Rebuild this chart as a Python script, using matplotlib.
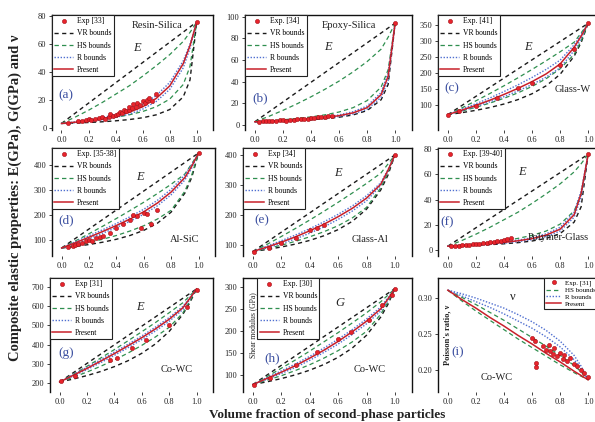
import matplotlib
matplotlib.use("Agg")
import matplotlib.pyplot as plt
from matplotlib.lines import Line2D

plt.rcParams['font.family'] = ['Liberation Serif', 'DejaVu Serif']

# ---------------- data ----------------
X = [0.0, 0.1, 0.2, 0.3, 0.4, 0.5, 0.6, 0.7, 0.8, 0.9, 0.95, 1.0]
XTICKS = [0.0, 0.2, 0.4, 0.6, 0.8, 1.0]
XTICKLABELS = ['0.0', '0.2', '0.4', '0.6', '0.8', '1.0']

# (a) Resin-Silica, E
A_VR_UP = [3, 10.3, 17.6, 24.9, 32.2, 39.5, 46.8, 54.1, 61.4, 68.7, 72.4, 76]
A_VR_LO = [3, 3.3, 3.7, 4.2, 4.9, 5.8, 7.1, 9.2, 13.0, 22.1, 34.3, 76]
A_HS_UP = [3, 7.5, 12.5, 18, 24, 30, 37, 44.5, 52.5, 62, 68.5, 76]
A_HS_LO = [3, 3.8, 4.8, 6.0, 7.4, 9.2, 11.6, 15, 20.5, 31, 44, 76]
A_R_UP = [3, 4.2, 5.6, 7.2, 9.4, 12.4, 16.6, 23, 32.5, 48, 60, 76]
A_R_LO = [3, 3.6, 4.5, 5.7, 7.3, 9.7, 13.3, 18.8, 27.5, 43, 57, 76]
A_PRESENT = [3, 3.9, 5.0, 6.4, 8.3, 11, 15, 21, 30, 46, 59, 76]
A_EXP_X = [0.05, 0.12, 0.15, 0.18, 0.2, 0.22, 0.25, 0.28, 0.3, 0.32, 0.35, 0.36, 0.38, 0.4,
           0.42, 0.43, 0.45, 0.46, 0.48, 0.5, 0.5, 0.52, 0.53, 0.55, 0.56, 0.58, 0.6, 0.62,
           0.63, 0.65, 0.67, 0.7, 1.0]
A_EXP_Y = [3.5, 4.5, 5, 5.5, 6, 5.5, 6.5, 7, 7.5, 6.5, 8, 9.5, 8.5, 9,
           10, 11.5, 10.5, 12.5, 12, 13, 15, 14, 17, 14.5, 18, 16, 19, 17.5,
           20, 21, 19, 24, 76]

# (b) Epoxy-Silica, E
B_VR_UP = [3, 12.1, 21.2, 30.3, 39.4, 48.5, 57.6, 66.7, 75.8, 84.9, 89.5, 94]
B_VR_LO = [3, 3.3, 3.7, 4.2, 4.9, 5.8, 7.2, 9.3, 13.3, 23.3, 37.4, 94]
B_HS_UP = [3, 8, 13.5, 19.5, 26, 33, 40.5, 49, 58.5, 70, 81, 94]
B_HS_LO = [3, 3.8, 4.8, 6.0, 7.5, 9.4, 12, 16, 22.5, 35, 51, 94]
B_R_UP = [3, 3.6, 4.3, 5.1, 6.1, 7.4, 9.3, 12.3, 17.5, 30, 48, 94]
B_R_LO = [3, 3.4, 3.9, 4.5, 5.3, 6.4, 7.9, 10.2, 14.5, 25.5, 41, 94]
B_PRESENT = [3, 3.5, 4.1, 4.8, 5.7, 6.9, 8.6, 11.2, 16, 28, 45, 94]
B_EXP_X = [0.03, 0.06, 0.08, 0.1, 0.12, 0.15, 0.18, 0.2, 0.22, 0.25, 0.28, 0.3, 0.33,
           0.35, 0.38, 0.4, 0.42, 0.45, 0.47, 0.5, 0.52, 0.55, 1.0]
B_EXP_Y = [3.2, 3.5, 3.3, 3.8, 3.6, 4.0, 4.2, 4.4, 4.1, 4.8, 5.0, 5.3, 5.5,
           5.8, 6.0, 6.3, 6.6, 7.0, 7.4, 7.8, 8.2, 8.5, 94]

# (c) Glass-W, E
C_VR_UP = [70, 98.5, 127, 155.5, 184, 212.5, 241, 269.5, 298, 326.5, 340.8, 355]
C_VR_LO = [70, 76.1, 83.4, 92.2, 103.1, 116.9, 135.1, 159.8, 195.7, 252.3, 295, 355]
C_HS_UP = [70, 91, 113, 136, 160, 185, 211, 238, 266, 296, 325, 355]
C_HS_LO = [70, 81, 93, 106, 121, 138, 158, 182, 213, 258, 300, 355]
C_R_UP = [70, 87, 104, 122, 142, 163, 186, 211, 240, 288, 320, 355]
C_R_LO = [70, 82, 95, 110, 126, 144, 164, 187, 216, 270, 308, 355]
C_PRESENT = [70, 84, 99, 115, 133, 152, 173, 197, 228, 280, 315, 355]
C_EXP_X = [0.0, 0.08, 0.2, 0.35, 0.5, 0.6, 0.8, 0.9, 1.0]
C_EXP_Y = [70, 80, 98, 122, 152, 170, 225, 275, 355]

# (d) Al-SiC, E
D_VR_UP = [68, 106, 144, 182, 220, 258, 296, 334, 372, 410, 429, 448]
D_VR_LO = [68, 74.3, 81.9, 91.2, 102.9, 118.1, 138.5, 167.4, 211.6, 287.4, 350, 448]
D_HS_UP = [68, 96, 125, 155, 186, 218, 251, 286, 323, 364, 405, 448]
D_HS_LO = [68, 78, 90, 103, 118, 136, 157, 184, 219, 295, 360, 448]
D_R_UP = [68, 93, 117, 141, 166, 193, 223, 259, 303, 360, 402, 448]
D_R_LO = [68, 85, 105, 127, 150, 175, 203, 237, 281, 340, 388, 448]
D_PRESENT = [68, 89, 111, 134, 158, 184, 213, 248, 292, 350, 395, 448]
D_EXP_X = [0.05, 0.08, 0.1, 0.12, 0.15, 0.18, 0.2, 0.22, 0.25, 0.28, 0.3, 0.35, 0.4,
           0.45, 0.5, 0.52, 0.55, 0.58, 0.6, 0.62, 0.65, 0.7, 1.0]
D_EXP_Y = [72, 78, 80, 84, 90, 96, 100, 98, 108, 112, 118, 130, 150,
           165, 180, 200, 195, 150, 210, 205, 165, 220, 448]

# (e) Glass-Al, E
E_VR_UP = [78, 110.2, 142.4, 174.6, 206.8, 239, 271.2, 303.4, 335.6, 367.8, 383.9, 400]
E_VR_LO = [78, 84.8, 93.0, 102.8, 115.0, 130.5, 150.9, 178.7, 219.1, 283.1, 331.6, 400]
E_HS_UP = [78, 102, 128, 155, 183, 212, 242, 273, 305, 339, 369, 400]
E_HS_LO = [78, 88, 99, 112, 127, 144, 164, 190, 225, 290, 340, 400]
E_R_UP = [78, 96, 114, 133, 154, 177, 202, 230, 264, 307, 350, 400]
E_R_LO = [78, 90, 104, 120, 139, 160, 185, 213, 247, 298, 345, 400]
E_PRESENT = [78, 93, 109, 127, 147, 169, 194, 222, 256, 302, 348, 400]
E_EXP_X = [0.01, 0.11, 0.2, 0.3, 0.4, 0.45, 0.5, 1.0]
E_EXP_Y = [78, 89, 105, 122, 150, 155, 167, 400]

# (f) Polymer-Glass, E
F_VR_UP = [3, 10.3, 17.6, 24.9, 32.2, 39.5, 46.8, 54.1, 61.4, 68.7, 72.4, 76]
F_VR_LO = [3, 3.3, 3.7, 4.2, 4.9, 5.8, 7.1, 9.2, 13.0, 22.1, 34.3, 76]
F_HS_UP = [3, 7.5, 12.5, 18, 24, 30, 37, 44.5, 52.5, 62, 68.5, 76]
F_HS_LO = [3, 3.8, 4.8, 6.0, 7.4, 9.2, 11.6, 15, 20.5, 31, 44, 76]
F_R_UP = [3, 3.7, 4.5, 5.4, 6.4, 7.8, 9.7, 12.8, 18, 30, 47, 76]
F_R_LO = [3, 3.4, 3.9, 4.6, 5.4, 6.6, 8.2, 10.7, 15, 26, 42, 76]
F_PRESENT = [3, 3.6, 4.3, 5.1, 6.0, 7.3, 9.0, 11.8, 16.5, 28, 45, 76]
F_EXP_X = [0.02, 0.05, 0.08, 0.1, 0.13, 0.15, 0.18, 0.2, 0.22, 0.25, 0.28, 0.3, 0.33,
           0.35, 0.38, 0.4, 0.42, 0.45, 1.0]
F_EXP_Y = [3, 3.3, 3.5, 3.8, 3.9, 4.2, 4.4, 4.8, 4.6, 5.2, 5.5, 6, 6.2,
           6.8, 7.2, 7.8, 8.5, 9.5, 76]

# (g) Co-WC, E
G_VR_UP = [205, 253.5, 302, 350.5, 399, 447.5, 496, 544.5, 593, 641.5, 665.8, 690]
G_VR_LO = [205, 220.5, 238.6, 259.8, 285.2, 316.1, 354.6, 403.6, 468.4, 558, 617, 690]
G_HS_UP = [205, 245, 287, 330, 374, 420, 467, 515, 566, 618, 654, 690]
G_HS_LO = [205, 230, 257, 287, 320, 356, 396, 440, 490, 565, 625, 690]
G_R_UP = [205, 244, 282, 321, 361, 402, 445, 491, 541, 599, 644, 690]
G_R_LO = [205, 236, 270, 306, 344, 384, 426, 471, 521, 583, 635, 690]
G_PRESENT = [205, 240, 276, 314, 353, 394, 436, 482, 532, 592, 640, 690]
G_EXP_X = [0.01, 0.11, 0.37, 0.42, 0.53, 0.63, 0.8, 0.93, 1.0]
G_EXP_Y = [209, 234, 320, 329, 381, 424, 502, 595, 685]

# (h) Co-WC, G
H_VR_UP = [78, 99.8, 121.6, 143.4, 165.2, 187, 208.8, 230.6, 252.4, 274.2, 285.1, 296]
H_VR_LO = [78, 84.2, 91.5, 100.1, 110.6, 123.5, 139.8, 161, 189.9, 231.3, 259.7, 296]
H_HS_UP = [78, 96, 115, 134, 154, 175, 196, 218, 241, 266, 281, 296]
H_HS_LO = [78, 88, 98, 110, 123, 138, 155, 175, 199, 238, 265, 296]
H_R_UP = [78, 94, 109, 125, 142, 161, 181, 203, 227, 254, 275, 296]
H_R_LO = [78, 90, 103, 117, 133, 151, 170, 192, 216, 245, 269, 296]
H_PRESENT = [78, 92, 106, 121, 138, 156, 176, 198, 222, 250, 272, 296]
H_EXP_X = [0.01, 0.12, 0.3, 0.45, 0.6, 0.69, 0.82, 0.91, 0.98, 1.0]
H_EXP_Y = [77, 92, 122, 152, 182, 198, 225, 259, 282, 296]

# (i) Co-WC, Poisson's ratio
I_HS_UP = [0.311, 0.301, 0.291, 0.280, 0.269, 0.257, 0.245, 0.233, 0.220, 0.206, 0.197, 0.186]
I_HS_LO = [0.311, 0.296, 0.282, 0.269, 0.256, 0.243, 0.231, 0.219, 0.207, 0.196, 0.191, 0.186]
I_R_UP = [0.311, 0.306, 0.300, 0.293, 0.286, 0.277, 0.267, 0.255, 0.240, 0.220, 0.205, 0.186]
I_R_LO = [0.311, 0.303, 0.295, 0.287, 0.278, 0.268, 0.258, 0.246, 0.232, 0.214, 0.201, 0.186]
I_PRESENT = [0.311, 0.298, 0.286, 0.273, 0.261, 0.248, 0.236, 0.223, 0.211, 0.198, 0.192, 0.186]
I_EXP_X = [0.60, 0.62, 0.63, 0.63, 0.68, 0.70, 0.72, 0.73, 0.75, 0.76, 0.78, 0.80, 0.82,
           0.83, 0.85, 0.87, 0.90, 0.92, 0.95, 0.97, 1.0]
I_EXP_Y = [0.245, 0.240, 0.210, 0.204, 0.233, 0.228, 0.235, 0.226, 0.222, 0.230, 0.219,
           0.224, 0.215, 0.220, 0.212, 0.216, 0.208, 0.205, 0.200, 0.196, 0.190]

EXP_LABELS = ['Exp [33]', 'Exp. [34]', 'Exp. [41]', 'Exp. [35-38]', 'Exp [34]',
              'Exp. [39-40]', 'Exp [31]', 'Exp. [30]', 'Exp. [31]']

# ---------------- styling ----------------
C_VR = '#1a1a1a'
C_HS = '#2f8f4f'
C_R = '#4f6fd0'
C_PR = '#c8202a'
C_EXP = '#e8242c'
C_LBL = '#3b4fa0'
LS_VR = (0, (3, 2.5))
LS_HS = (0, (3.5, 2.5))
LS_R = (0, (1, 1.2))

W, H = 595, 422
fig = plt.figure(figsize=(W / 100, H / 100), dpi=100)


def add_ax(l, t, r, b):
    return fig.add_axes([l / W, 1 - b / H, (r - l) / W, (b - t) / H])


def ftext(x, y, s, **kw):
    fig.text(x / W, 1 - y / H, s, **kw)


panels = [
    dict(box=(52, 15, 213, 130), ylim=(-1.7, 81), yt=[0, 20, 40, 60, 80], fmt='{:.0f}',
         vr=(A_VR_UP, A_VR_LO), hs=(A_HS_UP, A_HS_LO), r=(A_R_UP, A_R_LO), pr=A_PRESENT,
         ex=(A_EXP_X, A_EXP_Y)),
    dict(box=(245, 15, 412, 130), ylim=(-4.6, 101.5), yt=[0, 20, 40, 60, 80, 100], fmt='{:.0f}',
         vr=(B_VR_UP, B_VR_LO), hs=(B_HS_UP, B_HS_LO), r=(B_R_UP, B_R_LO), pr=B_PRESENT,
         ex=(B_EXP_X, B_EXP_Y)),
    dict(box=(438, 15, 605, 130), ylim=(22, 381), yt=[100, 150, 200, 250, 300, 350], fmt='{:.0f}',
         vr=(C_VR_UP, C_VR_LO), hs=(C_HS_UP, C_HS_LO), r=(C_R_UP, C_R_LO), pr=C_PRESENT,
         ex=(C_EXP_X, C_EXP_Y)),
    dict(box=(52, 148, 215, 256), ylim=(36, 468), yt=[100, 200, 300, 400], fmt='{:.0f}',
         vr=(D_VR_UP, D_VR_LO), hs=(D_HS_UP, D_HS_LO), r=(D_R_UP, D_R_LO), pr=D_PRESENT,
         ex=(D_EXP_X, D_EXP_Y)),
    dict(box=(243, 148, 412, 256), ylim=(63, 423), yt=[100, 200, 300, 400], fmt='{:.0f}',
         vr=(E_VR_UP, E_VR_LO), hs=(E_HS_UP, E_HS_LO), r=(E_R_UP, E_R_LO), pr=E_PRESENT,
         ex=(E_EXP_X, E_EXP_Y)),
    dict(box=(438, 148, 605, 256), ylim=(-4.8, 81), yt=[0, 20, 40, 60, 80], fmt='{:.0f}',
         vr=(F_VR_UP, F_VR_LO), hs=(F_HS_UP, F_HS_LO), r=(F_R_UP, F_R_LO), pr=F_PRESENT,
         ex=(F_EXP_X, F_EXP_Y)),
    dict(box=(50, 278, 213, 392), ylim=(153, 747), yt=[200, 300, 400, 500, 600, 700], fmt='{:.0f}',
         vr=(G_VR_UP, G_VR_LO), hs=(G_HS_UP, G_HS_LO), r=(G_R_UP, G_R_LO), pr=G_PRESENT,
         ex=(G_EXP_X, G_EXP_Y)),
    dict(box=(243, 278, 412, 392), ylim=(61, 320), yt=[100, 150, 200, 250, 300], fmt='{:.0f}',
         vr=(H_VR_UP, H_VR_LO), hs=(H_HS_UP, H_HS_LO), r=(H_R_UP, H_R_LO), pr=H_PRESENT,
         ex=(H_EXP_X, H_EXP_Y)),
    dict(box=(438, 278, 605, 392), ylim=(0.169, 0.328), yt=[0.20, 0.25, 0.30], fmt='{:.2f}',
         vr=None, hs=(I_HS_UP, I_HS_LO), r=(I_R_UP, I_R_LO), pr=I_PRESENT,
         ex=(I_EXP_X, I_EXP_Y)),
]

for k, p in enumerate(panels):
    ax = add_ax(*p['box'])
    ax.set_xlim(-0.07, 1.12)
    ax.set_ylim(*p['ylim'])
    ax.set_xticks(XTICKS)
    ax.set_xticklabels(XTICKLABELS)
    ax.set_yticks(p['yt'])
    ax.set_yticklabels([p['fmt'].format(v) for v in p['yt']])
    ax.tick_params(axis='both', labelsize=6, length=2, width=0.6, pad=2, colors='#222222')
    ax.spines['bottom'].set_visible(False)
    for s in ('top', 'left', 'right'):
        ax.spines[s].set_linewidth(1.0)
        ax.spines[s].set_color('#111111')

    if p['vr'] is not None:
        for ys in p['vr']:
            ax.plot(X, ys, color=C_VR, ls=LS_VR, lw=1.0)
    for ys in p['hs']:
        ax.plot(X, ys, color=C_HS, ls=LS_HS, lw=0.9)
    for ys in p['r']:
        ax.plot(X, ys, color=C_R, ls=LS_R, lw=1.0)
    ax.plot(X, p['pr'], color=C_PR, lw=1.1)
    ax.plot(p['ex'][0], p['ex'][1], 'o', ms=3, color=C_EXP, mec='#a01018', mew=0.4, ls='none')

    handles = [Line2D([], [], marker='o', ms=3, color=C_EXP, mec='#a01018', mew=0.4, ls='none')]
    labels = [EXP_LABELS[k]]
    if p['vr'] is not None:
        handles.append(Line2D([], [], color=C_VR, ls=LS_VR, lw=1.0))
        labels.append('VR bounds')
    handles += [Line2D([], [], color=C_HS, ls=LS_HS, lw=0.9),
                Line2D([], [], color=C_R, ls=LS_R, lw=1.0),
                Line2D([], [], color=C_PR, lw=1.1)]
    labels += ['HS bounds', 'R bounds', 'Present']

    if k == 8:
        leg = ax.legend(handles, labels, loc='upper right', bbox_to_anchor=(0.955, 1.0),
                        fontsize=5, labelspacing=0.15, handlelength=2.2, handletextpad=0.5,
                        borderpad=0.25, borderaxespad=0, fancybox=False, framealpha=1)
    else:
        anchor = (0.085, 1.0) if k == 7 else (0.0, 1.0)
        leg = ax.legend(handles, labels, loc='upper left', bbox_to_anchor=anchor,
                        fontsize=5.5, labelspacing=0.55, handlelength=2.5, handletextpad=0.5,
                        borderpad=0.3, borderaxespad=0, fancybox=False, framealpha=1)
    leg.get_frame().set_edgecolor('#222222')
    leg.get_frame().set_linewidth(0.8)

# ---------------- annotations ----------------
MAT = dict(fontsize=7.5, ha='center', va='center', color='#222222')
EL = dict(fontsize=9, ha='center', va='center', style='italic', color='#222222')
PL = dict(fontsize=9.5, ha='center', va='center', color=C_LBL)

ftext(157, 25, 'Resin-Silica', **MAT)
ftext(137, 48, 'E', **EL)
ftext(66, 95, '(a)', **PL)

ftext(349, 25, 'Epoxy-Silica', **MAT)
ftext(328, 47, 'E', **EL)
ftext(260, 98, '(b)', **PL)

ftext(528, 47, 'E', **EL)
ftext(452, 88, '(c)', **PL)
ftext(573, 90, 'Glass-W', **MAT)

ftext(140, 177, 'E', **EL)
ftext(66, 220, '(d)', **PL)
ftext(185, 240, 'Al-SiC', **MAT)

ftext(338, 173, 'E', **EL)
ftext(262, 220, '(e)', **PL)
ftext(370, 240, 'Glass-Al', **MAT)

ftext(522, 172, 'E', **EL)
ftext(447, 222, '(f)', **PL)
ftext(528, 237, 'Polymer-Glass', fontsize=7.5, ha='left', va='center', color='#222222')

ftext(140, 307, 'E', **EL)
ftext(66, 353, '(g)', **PL)
ftext(177, 370, 'Co-WC', **MAT)

ftext(340, 303, 'G', **EL)
ftext(272, 358, '(h)', **PL)
ftext(370, 370, 'Co-WC', **MAT)
ftext(253, 325, 'Shear modulus (GPa)', fontsize=5.5, rotation=90, ha='center', va='center',
      color='#222222')

ftext(513, 297, 'ν', fontsize=9, ha='center', va='center', color='#222222')
ftext(458, 352, '(i)', **PL)
ftext(497, 378, 'Co-WC', **MAT)
ftext(447, 335, "Poisson's ratio, ν", fontsize=6, rotation=90, ha='center', va='center',
      color='#222222', weight='bold')

ftext(15, 198, 'Composite elastic properties: E(GPa), G(GPa) and ν', fontsize=10.5,
      rotation=90, ha='center', va='center', weight='bold', color='#222222')
ftext(327, 415, 'Volume fraction of second-phase particles', fontsize=9.5,
      ha='center', va='center', weight='bold', color='#222222')

fig.savefig('out.png', dpi=100)
